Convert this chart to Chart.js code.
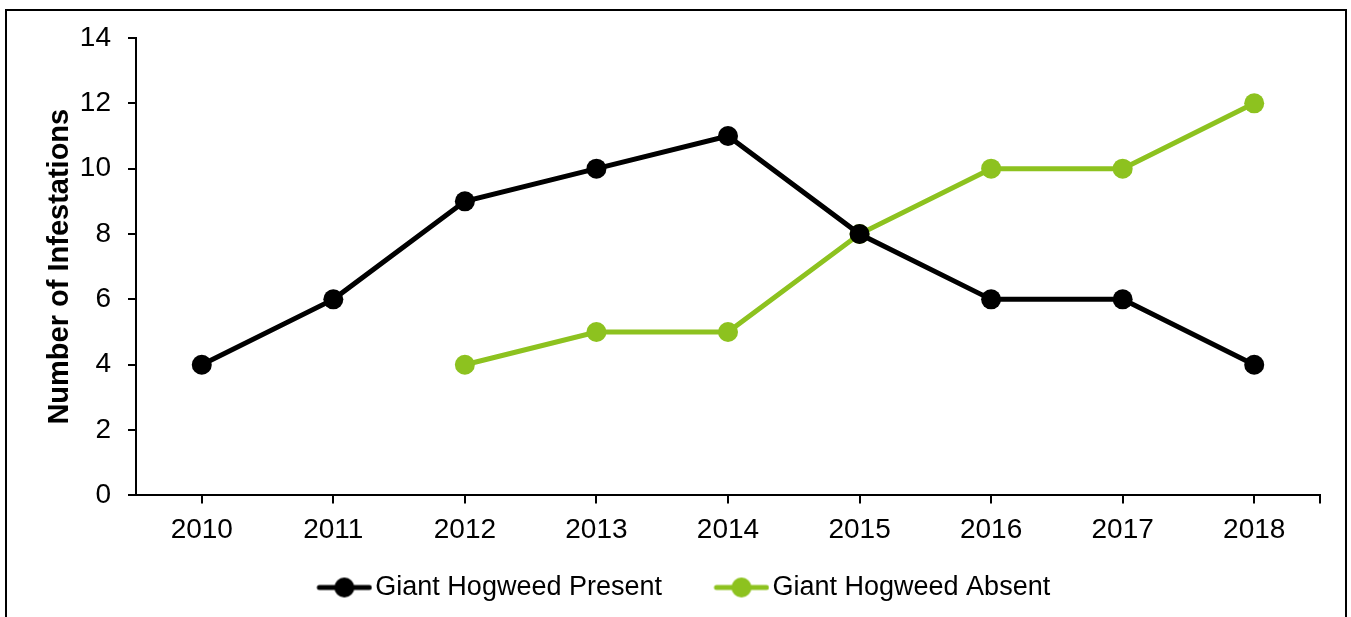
<!DOCTYPE html>
<html>
<head>
<meta charset="utf-8">
<script src="https://cdn.jsdelivr.net/npm/chart.js@4"></script>
<style>
  html, body { margin: 0; padding: 0; background: #fff; }
  #wrap { position: relative; width: 1351px; height: 617px; overflow: hidden; }
  #frame { position: absolute; left: 5px; top: 9px; width: 1338px; height: 640px; border: 2px solid #000; box-sizing: content-box; }
  canvas { position: absolute; left: 0; top: 0; }
</style>
</head>
<body>
<div id="wrap">
  <div id="frame"></div>
  <canvas id="c" width="1351" height="617"></canvas>
</div>
<script>
const years = ['2010', '2011', '2012', '2013', '2014', '2015', '2016', '2017', '2018'];
const present = [4, 6, 9, 10, 11, 8, 6, 6, 4];
const absent = [null, null, 4, 5, 5, 8, 10, 10, 12];
const seriesNames = ['Giant Hogweed Present', 'Giant Hogweed Absent'];
const yTitle = 'Number of Infestations';

const BLACK = '#000000';
const GREEN = '#8DC21F';
const FONT = "Arial, 'Liberation Sans', sans-serif";

const ICON_BOX = 80;
const ICON_W = ICON_BOX + 21;

function legendIcon(color) {
  const cv = document.createElement('canvas');
  cv.width = ICON_W; cv.height = 22;
  const g = cv.getContext('2d');
  const x0 = ICON_W - 56;
  g.strokeStyle = color; g.lineWidth = 5; g.lineCap = 'round';
  g.beginPath(); g.moveTo(x0 + 3, 11); g.lineTo(x0 + 53, 11); g.stroke();
  g.fillStyle = color;
  g.beginPath(); g.arc(x0 + 28, 11, 10, 0, Math.PI * 2); g.fill();
  return cv;
}

const rightTick = {
  id: 'rightTick',
  afterLayout(chart) {
    if (chart.legend) { chart.legend.left += 6; chart.legend.right += 6; }
  },
  afterDraw(chart) {
    const {ctx, chartArea} = chart;
    ctx.save();
    ctx.strokeStyle = BLACK; ctx.lineWidth = 2;
    ctx.beginPath();
    ctx.moveTo(chartArea.right, chartArea.bottom);
    ctx.lineTo(chartArea.right, chartArea.bottom + 8);
    ctx.stroke();
    ctx.restore();
  }
};

new Chart(document.getElementById('c'), {
  type: 'line',
  data: {
    labels: years,
    datasets: [
      { label: seriesNames[0], data: present, borderColor: BLACK, backgroundColor: BLACK,
        borderWidth: 5, pointRadius: 10, pointHoverRadius: 10, pointBorderWidth: 0,
        pointStyle: 'circle', tension: 0, spanGaps: false },
      { label: seriesNames[1], data: absent, borderColor: GREEN, backgroundColor: GREEN,
        borderWidth: 5, pointRadius: 10, pointHoverRadius: 10, pointBorderWidth: 0,
        pointStyle: 'circle', tension: 0, spanGaps: false }
    ]
  },
  options: {
    responsive: false,
    animation: false,
    layout: { padding: { left: 0, right: 31, top: 38, bottom: 6 } },
    plugins: {
      tooltip: { enabled: false },
      legend: {
        position: 'bottom',
        labels: {
          color: BLACK,
          font: { family: FONT, size: 27 },
          usePointStyle: true,
          pointStyleWidth: ICON_BOX,
          padding: 17,
          generateLabels(chart) {
            return chart.data.datasets.map((ds, i) => ({
              text: ds.label,
              fillStyle: ds.borderColor,
              strokeStyle: ds.borderColor,
              lineWidth: 0,
              pointStyle: legendIcon(ds.borderColor),
              fontColor: BLACK,
              hidden: false,
              datasetIndex: i
            }));
          }
        }
      }
    },
    scales: {
      x: {
        offset: true,
        grid: { offset: false, drawOnChartArea: false, drawTicks: true, tickLength: 8, color: BLACK, lineWidth: 2 },
        border: { display: true, color: BLACK, width: 2 },
        ticks: { color: BLACK, font: { family: FONT, size: 28 }, padding: 10, maxRotation: 0 }
      },
      y: {
        min: 0, max: 14,
        afterFit(scale) { scale.width = 136; },
        grid: { drawOnChartArea: false, drawTicks: true, tickLength: 8, color: BLACK, lineWidth: 2 },
        border: { display: true, color: BLACK, width: 2 },
        ticks: { stepSize: 2, color: BLACK, font: { family: FONT, size: 28 }, padding: 17 },
        title: { display: true, text: yTitle, color: BLACK, font: { family: FONT, size: 29, weight: 'bold' }, padding: { top: 43, bottom: 0 } }
      }
    }
  },
  plugins: [rightTick]
});
</script>
</body>
</html>
